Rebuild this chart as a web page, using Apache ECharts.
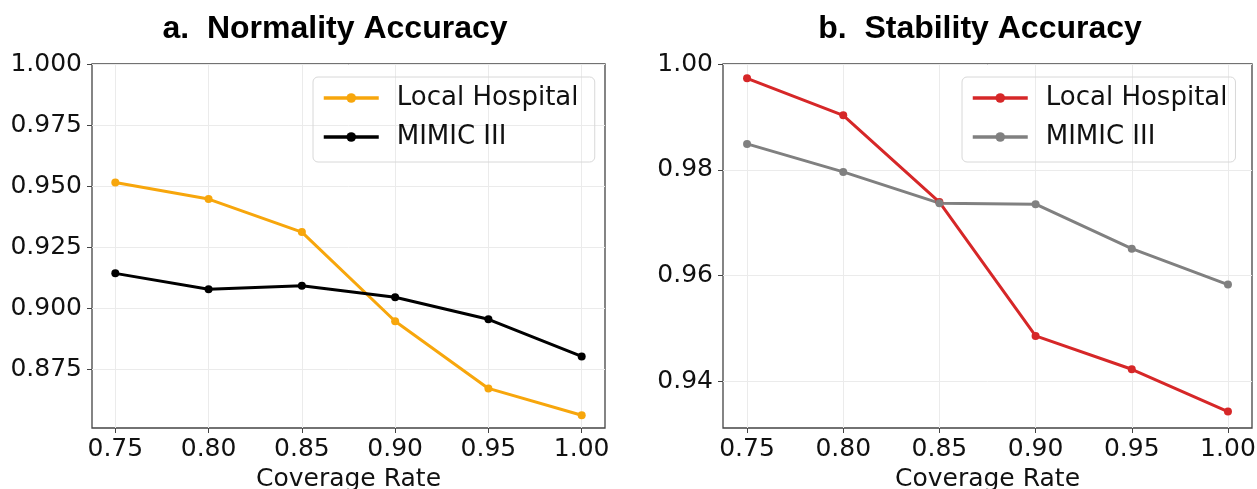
<!DOCTYPE html>
<html>
<head>
<meta charset="utf-8">
<script src="https://cdn.jsdelivr.net/npm/echarts@6/dist/echarts.min.js"></script>
<style>
  html, body { margin: 0; padding: 0; background: #fff; }
  #main { width: 1257px; height: 489px; }
</style>
</head>
<body>
<div id="main"></div>
<script>
// data
var coverage = [0.75, 0.80, 0.85, 0.90, 0.95, 1.00];
var xTicks = [0.75, 0.80, 0.85, 0.90, 0.95, 1.00];

var normLocal = [0.9515, 0.9447, 0.9312, 0.8947, 0.8672, 0.8562];
var normMimic = [0.9143, 0.9078, 0.9092, 0.9045, 0.8955, 0.8803];
var normTicks = [0.875, 0.900, 0.925, 0.950, 0.975, 1.000];

var stabLocal = [0.9973, 0.9903, 0.9739, 0.9486, 0.9423, 0.9343];
var stabMimic = [0.9849, 0.9796, 0.9737, 0.9735, 0.9651, 0.9583];
var stabTicks = [0.94, 0.96, 0.98, 1.00];

function pairs(xs, ys) {
  return xs.map(function (x, i) { return [x, ys[i]]; });
}

var labelFont = { fontFamily: 'DejaVu Sans', fontSize: 25, color: '#111' };
var gridLine = { show: true, lineStyle: { color: '#ebebeb', width: 1 } };

function xAxisOf(idx) {
  return {
    type: 'value', gridIndex: idx,
    min: 0.7375, max: 1.0125,
    name: 'Coverage Rate', nameLocation: 'middle', nameGap: 37,
    nameTextStyle: { fontFamily: 'DejaVu Sans', fontSize: 25, color: '#111' },
    axisLine: { show: false },
    axisTick: { show: true, length: 5, customValues: xTicks, lineStyle: { color: '#444' } },
    axisLabel: Object.assign({ customValues: xTicks, margin: 9,
      formatter: function (v) { return v.toFixed(2); } }, labelFont),
    splitLine: gridLine
  };
}

function yAxisOf(idx, min, max, ticks, dec) {
  return {
    type: 'value', gridIndex: idx, min: min, max: max,
    axisLine: { show: false },
    axisTick: { show: true, length: 5, customValues: ticks, lineStyle: { color: '#444' } },
    axisLabel: Object.assign({ customValues: ticks, margin: 10,
      formatter: function (v) { return v.toFixed(dec); } }, labelFont),
    splitLine: gridLine
  };
}

function lineSeries(name, idx, data, color) {
  return {
    name: name, type: 'line', xAxisIndex: idx, yAxisIndex: idx,
    data: data, color: color,
    symbol: 'circle', symbolSize: 8,
    lineStyle: { width: 3, color: color },
    itemStyle: { color: color },
    animation: false
  };
}

function legendOf(left, names) {
  return {
    data: names, orient: 'vertical', left: left, top: 77,
    itemWidth: 55, itemHeight: 12, itemGap: 13,
    padding: [8, 8, 12, 9],
    borderColor: '#d8d8d8', borderWidth: 1, borderRadius: 5,
    lineStyle: { width: 3.5 },
    textStyle: { fontFamily: 'DejaVu Sans', fontSize: 26, color: '#111', padding: [0, 0, 0, 13] },
    selectedMode: false
  };
}

var chart = echarts.init(document.getElementById('main'));

var option = {
  backgroundColor: '#fff',
  animation: false,
  grid: [
    { left: 92, top: 64, width: 513, height: 364, show: true, borderColor: '#444', borderWidth: 1.3,
      outerBoundsMode: 'none', containLabel: false },
    { left: 723, top: 64, width: 529, height: 364, show: true, borderColor: '#444', borderWidth: 1.3,
      outerBoundsMode: 'none', containLabel: false }
  ],
  xAxis: [xAxisOf(0), xAxisOf(1)],
  yAxis: [
    yAxisOf(0, 0.851, 1.0, normTicks, 3),
    yAxisOf(1, 0.9312, 1.0, stabTicks, 2)
  ],
  legend: [
    legendOf(313, ['Local Hospital ', 'MIMIC III ']),
    legendOf(962, ['Local Hospital', 'MIMIC III'])
  ],
  graphic: [
    { type: 'text', x: 335, y: 29, style: { text: 'a.  Normality Accuracy', fontFamily: 'Liberation Sans',
      fontWeight: 'bold', fontSize: 32, fill: '#000', align: 'center', verticalAlign: 'middle' } },
    { type: 'text', x: 980, y: 29, style: { text: 'b.  Stability Accuracy', fontFamily: 'Liberation Sans',
      fontWeight: 'bold', fontSize: 32, fill: '#000', align: 'center', verticalAlign: 'middle' } }
  ],
  series: [
    lineSeries('Local Hospital ', 0, pairs(coverage, normLocal), '#f7a60c'),
    lineSeries('MIMIC III ', 0, pairs(coverage, normMimic), '#000000'),
    lineSeries('Local Hospital', 1, pairs(coverage, stabLocal), '#d62728'),
    lineSeries('MIMIC III', 1, pairs(coverage, stabMimic), '#808080')
  ]
};

chart.setOption(option);
</script>
</body>
</html>
